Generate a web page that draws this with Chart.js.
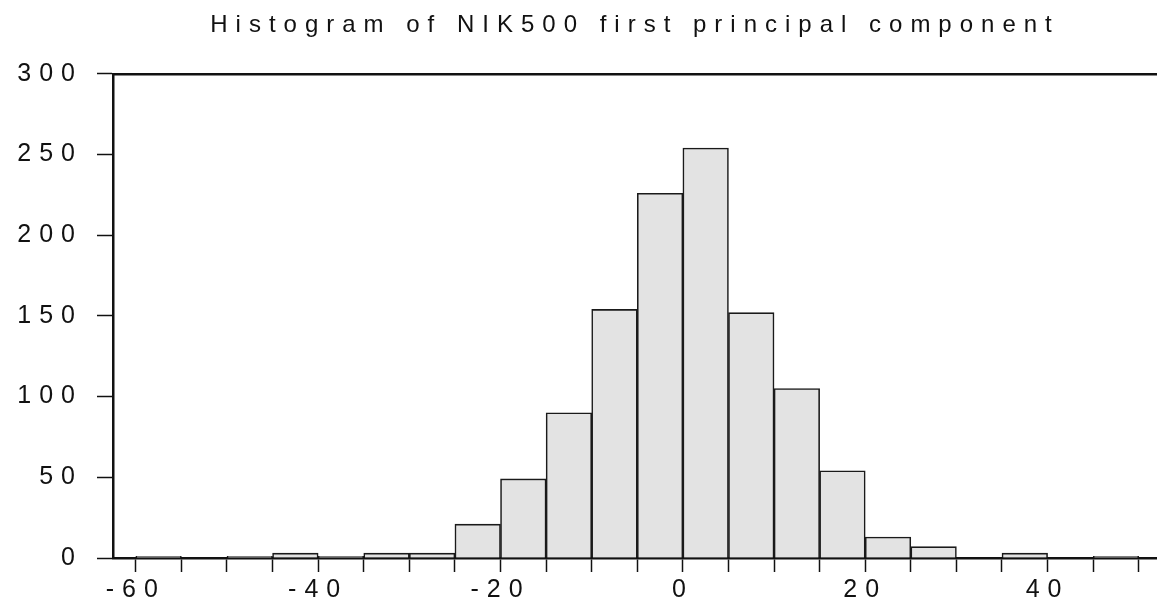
<!DOCTYPE html>
<html lang="en">
<head>
<meta charset="UTF-8">
<style>
body {
    margin: 0;
    background-color: #fff;
}

.chart-container {
    width: 1157px;
    height: 611px;
}
</style>
</head>
<body>
<div class="chart-container">
<canvas id="histChart"></canvas>
</div>
<script src="https://cdn.jsdelivr.net/npm/chart.js"></script>
<script>
// bins are 5 wide, each entry is the left edge of a bin
const binLeft = [-60, -55, -50, -45, -40, -35, -30, -25, -20, -15, -10, -5, 0, 5, 10, 15, 20, 25, 30, 35, 40, 45];
const counts = [1, 0, 1, 3, 1, 3, 3, 21, 49, 90, 154, 226, 254, 152, 105, 54, 13, 7, 0, 3, 0, 1];
const binWidth = 5;
const xLabelValues = [-60, -40, -20, 0, 20, 40];
const yTicks = [0, 50, 100, 150, 200, 250, 300];

const ink = '#111';
const fontFamily = "'Liberation Sans', Arial, sans-serif";

// old-style spaced out lettering
const spacing = '8px';
const letterSpacingPlugin = {
    id: 'letterSpacing',
    beforeUpdate(chart) { chart.ctx.letterSpacing = spacing; },
    beforeDraw(chart) { chart.ctx.letterSpacing = spacing; }
};

const points = binLeft.map((left, i) => ({ x: left + binWidth / 2, y: counts[i] }));

const ctx = document.getElementById('histChart').getContext('2d');
const histChart = new Chart(ctx, {
    type: 'bar',
    data: {
        datasets: [{
            label: 'Count',
            data: points,
            backgroundColor: '#e3e3e3',
            borderColor: '#1a1a1a',
            borderWidth: 1.6,
            barPercentage: 1,
            categoryPercentage: 1
        }]
    },
    options: {
        responsive: true,
        maintainAspectRatio: false,
        animation: false,
        layout: { padding: 0 },
        scales: {
            x: {
                type: 'linear',
                position: 'bottom',
                min: -62.5,
                max: 52,
                offset: false,
                grid: {
                    offset: false,
                    drawOnChartArea: false,
                    drawTicks: true,
                    tickLength: 14,
                    tickWidth: 1.5,
                    tickColor: ink
                },
                border: { display: true, width: 2.5, color: ink },
                ticks: {
                    stepSize: 5,
                    includeBounds: false,
                    autoSkip: false,
                    maxRotation: 0,
                    padding: 3,
                    color: ink,
                    font: { family: fontFamily, size: 25 },
                    callback: (value) => xLabelValues.includes(value) ? String(value) : ''
                },
                afterFit: (scale) => { scale.height = 53; }
            },
            xTop: {
                type: 'linear',
                position: 'top',
                min: -62.5,
                max: 52,
                grid: { display: false, drawTicks: false },
                border: { display: true, width: 2.5, color: ink },
                ticks: { display: false },
                afterFit: (scale) => { scale.height = 0; }
            },
            y: {
                min: 0,
                max: 300,
                grid: {
                    drawOnChartArea: false,
                    drawTicks: true,
                    tickLength: 16,
                    tickWidth: 1.5,
                    tickColor: ink
                },
                border: { display: true, width: 2.5, color: ink },
                ticks: {
                    stepSize: 50,
                    padding: 14,
                    color: ink,
                    font: { family: fontFamily, size: 25 },
                    callback: (value) => yTicks.includes(value) ? String(value) : ''
                },
                afterFit: (scale) => { scale.width = 113; }
            }
        },
        plugins: {
            legend: { display: false },
            tooltip: { enabled: false },
            title: {
                display: true,
                text: 'Histogram of NIK500 first principal component',
                fullSize: false,
                color: ink,
                font: { family: fontFamily, size: 24, weight: 'normal' },
                padding: { top: 11, bottom: 34 }
            }
        }
    },
    plugins: [letterSpacingPlugin]
});
</script>
</body>
</html>
